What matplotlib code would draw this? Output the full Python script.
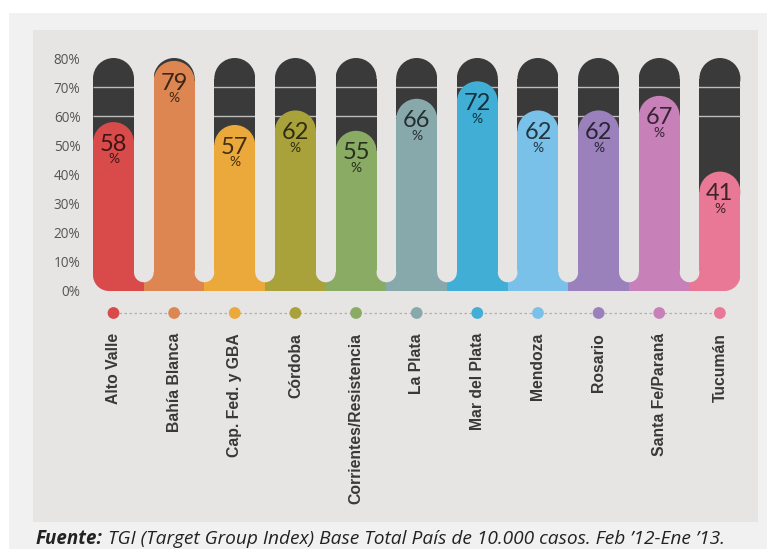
import numpy as np
import matplotlib
matplotlib.use('Agg')
import matplotlib.pyplot as plt
from matplotlib.patches import Rectangle, Circle, PathPatch
from matplotlib.path import Path
from matplotlib.colors import to_rgb

# Data
cities = ['Alto Valle', 'Bahía Blanca', 'Cap. Fed. y GBA', 'Córdoba',
          'Corrientes/Resistencia', 'La Plata', 'Mar del Plata', 'Mendoza',
          'Rosario', 'Santa Fe/Paraná', 'Tucumán']
values = [58, 79, 57, 62, 55, 66, 72, 62, 62, 67, 41]
colors = ['#d94a4b', '#de8651', '#eba83b', '#a9a23b', '#8aab63', '#88a9ab',
          '#41afd5', '#79c1e8', '#9a81bc', '#c781b8', '#e87896']
yticks = [0, 10, 20, 30, 40, 50, 60, 70, 80]
ytick_labels = [f'{t}%' for t in yticks]
source = 'TGI (Target Group Index) Base Total País de 10.000 casos. Feb \u201912-Ene \u201913.'

W, H = 767, 549
PX = 2.9125           # pixels per data unit (same on both axes)
Y0_PX = 291           # pixel row of 0%
X0_PX = 113.5         # pixel column of first bar centre
PITCH = 20.82
BW = 14.08
R = BW / 2
GR = (PITCH - BW) / 2
GAP_BOTTOM = 3.0
CORNER = 5.5
TOP = 80

BG = '#e6e5e4'
DARK = '#3a3a3a'

fig = plt.figure(figsize=(W / 100, H / 100), dpi=100)
fig.patch.set_facecolor('white')

# page backdrop and panel
fig.patches.append(Rectangle((9 / W, 0), 1, 1 - 13 / H, transform=fig.transFigure,
                             facecolor='#f1f1f1', edgecolor='none', zorder=-2))
fig.patches.append(Rectangle((33 / W, 1 - 522 / H), (758 - 33) / W, (522 - 30) / H,
                             transform=fig.transFigure, facecolor=BG,
                             edgecolor='none', zorder=-1))

xmin, xmax = -8, 10 * PITCH + 8
ymin, ymax = -80, 82
left_px = X0_PX + xmin * PX
right_px = X0_PX + xmax * PX
top_px = Y0_PX - ymax * PX
bot_px = Y0_PX - ymin * PX
ax = fig.add_axes([left_px / W, 1 - bot_px / H, (right_px - left_px) / W,
                   (bot_px - top_px) / H])
ax.set_zorder(2)
ax.set_xlim(xmin, xmax)
ax.set_ylim(ymin, ymax)
ax.patch.set_alpha(0)
for s in ax.spines.values():
    s.set_visible(False)
ax.set_xticks([])
ax.set_yticks(yticks)
ax.set_yticklabels(ytick_labels, fontsize=9.8, color='#555555', family='Open Sans')
ax.tick_params(axis='y', length=0, pad=7)

xs = np.arange(len(values)) * PITCH


def darken(c, f=0.28):
    r, g, b = to_rgb(c)
    return (r * f, g * f, b * f)


def corner_mask(cx, sign):
    # background-coloured piece that rounds an outer bottom corner
    t = np.linspace(0, np.pi / 2, 20)
    ox = cx + sign * CORNER
    arc = [(ox - sign * CORNER * np.cos(a), CORNER - CORNER * np.sin(a)) for a in t]
    verts = [(cx, 0), (cx, CORNER)] + arc + [(cx, 0)]
    return PathPatch(Path(verts), facecolor=BG, edgecolor='none', zorder=4)


# dark capsules up to 80%
for x in xs:
    ax.add_patch(Rectangle((x - R, 0), BW, TOP - R, facecolor=DARK, edgecolor='none', zorder=1))
    ax.add_patch(Circle((x, TOP - R), R, facecolor=DARK, edgecolor='none', zorder=1))

# light guide lines inside the dark part
for g in (60, 70):
    ax.plot([xs[0] - R, xs[-1] + R], [g, g], color='#bdbdbd', lw=1.0, zorder=2,
            solid_capstyle='butt')

# coloured bars joined by a base band
for i, (x, v, c) in enumerate(zip(xs, values, colors)):
    lo = x - R if i == 0 else x - PITCH / 2
    hi = x + R if i == len(xs) - 1 else x + PITCH / 2
    ax.add_patch(Rectangle((lo, 0), hi - lo, 12, facecolor=c, edgecolor='none', zorder=3))
    ax.add_patch(Rectangle((x - R, 0), BW, v - R, facecolor=c, edgecolor='none', zorder=3))
    ax.add_patch(Circle((x, v - R), R, facecolor=c, edgecolor='none', zorder=3))
    ax.text(x, v - 7.6, str(v), ha='center', va='center', fontsize=17,
            family='Lato', color=darken(c), zorder=5)
    ax.text(x, v - 12.8, '%', ha='center', va='center', fontsize=10,
            family='Lato', color=darken(c), zorder=5)

ax.add_patch(corner_mask(xs[0] - R, 1))
ax.add_patch(corner_mask(xs[-1] + R, -1))

# gaps between bars with rounded bottoms
for x in xs[:-1] + PITCH / 2:
    ax.add_patch(Rectangle((x - GR, GAP_BOTTOM + GR), 2 * GR, ymax, facecolor=BG,
                           edgecolor='none', zorder=4))
    ax.add_patch(Circle((x, GAP_BOTTOM + GR), GR, facecolor=BG, edgecolor='none', zorder=4))

# marker row and category labels
dot_y = -7.55
ax.plot([xs[0], xs[-1]], [dot_y, dot_y], color='#b0b0b0', lw=0.9, ls=(0, (2, 2)), zorder=2)
ax.scatter(xs, [dot_y] * len(xs), s=72, c=colors, zorder=3, linewidths=0)
for x, name in zip(xs, cities):
    ax.text(x, -14.4, name, rotation=90, ha='center', va='top', fontsize=11.3,
            fontweight='bold', color='#383838', family='Liberation Sans')

fig.text(36 / W, 1 - 544 / H, 'Fuente:', fontsize=13.5, fontweight='bold',
         style='italic', color='#222222', family='Open Sans', va='baseline')
fig.text(108 / W, 1 - 544 / H, source, fontsize=13.8, style='italic',
         color='#222222', family='Open Sans', va='baseline')

fig.savefig('out.png', dpi=100, facecolor=fig.get_facecolor())
